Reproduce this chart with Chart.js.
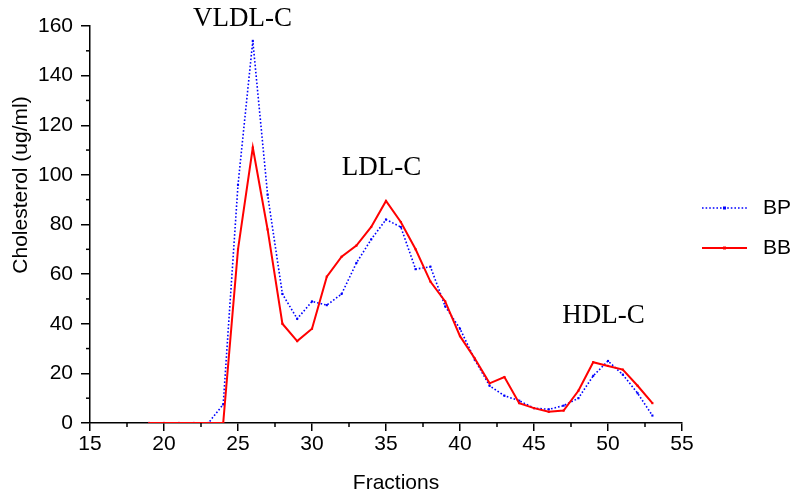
<!DOCTYPE html>
<html>
<head>
<meta charset="utf-8">
<script src="https://cdn.jsdelivr.net/npm/chart.js@4.4.1/dist/chart.umd.min.js"></script>
<style>
  html, body { margin: 0; padding: 0; background: #fff; }
  #wrap { width: 800px; height: 498px; position: relative; }
</style>
</head>
<body>
<div id="wrap"><canvas id="c" width="800" height="498"></canvas></div>
<script>
// ---- data ----
const fractions = [19,20,21,22,23,24,25,26,27,28,29,30,31,32,33,34,35,36,37,38,39,40,41,42,43,44,45,46,47,48,49,50,51,52,53];
const bpValues  = [0,0,0,0,0,7.5,96,154,92,52,42,49,47.5,52,64.5,74,82,79,62,63,47,38,25.5,15,11,9,6,5.5,7,10,19,25,19.5,12,3];
const bbValues  = [0,0,0,0,0,0,70,111,78,40,33,38,59,67,71.5,79,89.5,81,70,57,49,35,26,16,18.5,8,6,4.5,5,13,24.5,23,21.5,15,8];
const seriesNames = ["BP", "BB"];
const xTicks = [15,20,25,30,35,40,45,50,55];
const yTicks = [0,20,40,60,80,100,120,140,160];
const peakLabels = ["VLDL-C", "LDL-C", "HDL-C"];
const peakX = [25.3, 34.7, 49.7];
const peakY = [163, 103, 43];
const xTitle = "Fractions";
const yTitle = "Cholesterol (ug/ml)";

const toPoints = (xs, ys) => xs.map((x, i) => ({x: x, y: ys[i]}));

const SANS = '"Liberation Sans", Arial, sans-serif';
const SERIF = '"Liberation Serif", "Times New Roman", serif';

const minorTicks = {
  id: 'minorTicks',
  afterDraw(chart) {
    const ctx = chart.ctx, xs = chart.scales.x, ys = chart.scales.y;
    const area = chart.chartArea;
    ctx.save();
    ctx.strokeStyle = '#000';
    ctx.lineWidth = 1.5;
    for (let i = 0; i < xTicks.length - 1; i++) {
      const px = xs.getPixelForValue((xTicks[i] + xTicks[i+1]) / 2);
      ctx.beginPath(); ctx.moveTo(px, area.bottom); ctx.lineTo(px, area.bottom + 4); ctx.stroke();
    }
    for (let i = 0; i < yTicks.length - 1; i++) {
      const py = ys.getPixelForValue((yTicks[i] + yTicks[i+1]) / 2);
      ctx.beginPath(); ctx.moveTo(area.left, py); ctx.lineTo(area.left - 4, py); ctx.stroke();
    }
    ctx.restore();
  }
};

const textLayer = {
  id: 'textLayer',
  afterDraw(chart) {
    const ctx = chart.ctx, xs = chart.scales.x, ys = chart.scales.y;
    ctx.save();
    ctx.fillStyle = '#000';
    ctx.textAlign = 'center';
    ctx.textBaseline = 'middle';
    ctx.font = '27px ' + SERIF;
    peakLabels.forEach((t, i) => {
      ctx.fillText(t, xs.getPixelForValue(peakX[i]), ys.getPixelForValue(peakY[i]));
    });
    ctx.font = '21px ' + SANS;
    ctx.fillText(xTitle, 396, 483);
    ctx.translate(21, 185);
    ctx.rotate(-Math.PI / 2);
    ctx.fillText(yTitle, 0, 0);
    ctx.restore();
  }
};

const customLegend = {
  id: 'customLegend',
  afterDraw(chart) {
    const ctx = chart.ctx;
    const x0 = 702, x1 = 747, ys = [208, 248];
    ctx.save();
    chart.data.datasets.slice().sort((a, b) => seriesNames.indexOf(a.label) - seriesNames.indexOf(b.label)).forEach((ds, i) => {
      const y = ys[i];
      ctx.strokeStyle = ds.borderColor;
      ctx.lineWidth = ds.borderWidth;
      ctx.setLineDash(ds.borderDash || []);
      ctx.beginPath(); ctx.moveTo(x0, y); ctx.lineTo(x1, y); ctx.stroke();
      ctx.setLineDash([]);
      ctx.fillStyle = ds.borderColor;
      ctx.fillRect((x0 + x1) / 2 - 1.5, y - 1.5, 3, 3);
      ctx.fillStyle = '#000';
      ctx.font = '21px ' + SANS;
      ctx.textAlign = 'left';
      ctx.textBaseline = 'middle';
      ctx.fillText(ds.label, 763, y);
    });
    ctx.restore();
  }
};

new Chart(document.getElementById('c'), {
  type: 'line',
  data: {
    datasets: [
      {
        label: seriesNames[1],
        data: toPoints(fractions, bbValues),
        borderColor: '#ff0000',
        backgroundColor: '#ff0000',
        borderWidth: 2,
        pointStyle: 'rect',
        pointRadius: 1.5,
        pointBorderWidth: 0,
        tension: 0,
        order: 0
      },
      {
        label: seriesNames[0],
        data: toPoints(fractions, bpValues),
        borderColor: '#0000ff',
        backgroundColor: '#0000ff',
        borderWidth: 1.6,
        borderDash: [1.6, 2],
        pointStyle: 'rect',
        pointRadius: 1.5,
        pointBorderWidth: 0,
        tension: 0,
        order: 1
      }
    ]
  },
  options: {
    responsive: false,
    animation: false,
    devicePixelRatio: 1,
    layout: { padding: { top: 26, right: 118, bottom: 0, left: 0 } },
    plugins: { legend: { display: false }, tooltip: { enabled: false } },
    scales: {
      x: {
        type: 'linear',
        min: 15, max: 55,
        afterBuildTicks(scale) { scale.ticks = xTicks.map(v => ({value: v})); },
        border: { display: true, color: '#000', width: 1.5 },
        grid: { display: true, drawOnChartArea: false, drawTicks: true, tickLength: 8, color: '#000', lineWidth: 1.5 },
        ticks: { color: '#000', font: { family: SANS, size: 21 }, padding: 1, maxRotation: 0, autoSkip: false },
        title: { display: false },
        afterFit(scale) { scale.height = 75; }
      },
      y: {
        type: 'linear',
        min: 0, max: 160,
        afterBuildTicks(scale) { scale.ticks = yTicks.map(v => ({value: v})); },
        border: { display: true, color: '#000', width: 1.5 },
        grid: { display: true, drawOnChartArea: false, drawTicks: true, tickLength: 9, color: '#000', lineWidth: 1.5 },
        ticks: { color: '#000', font: { family: SANS, size: 21 }, padding: 8 },
        title: { display: false },
        afterFit(scale) { scale.width = 90; }
      }
    }
  },
  plugins: [minorTicks, textLayer, customLegend]
});
</script>
</body>
</html>
